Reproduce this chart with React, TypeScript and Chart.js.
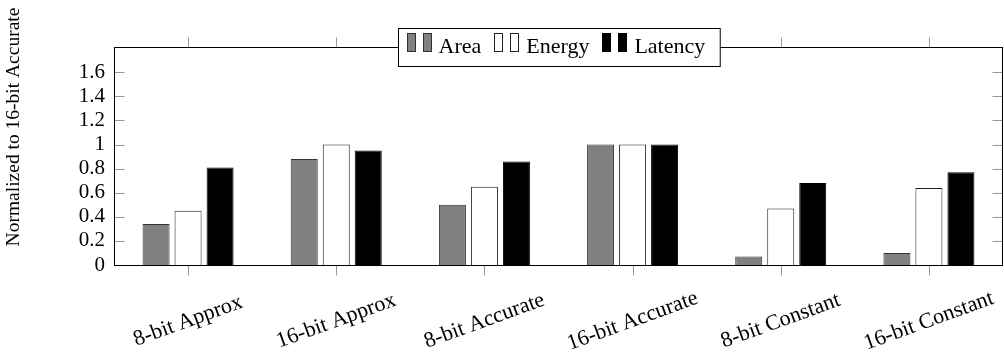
import React, { useEffect, useRef } from "react";
import { Chart, registerables } from "chart.js";

Chart.register(...registerables);

const categories = [
  "8-bit Approx",
  "16-bit Approx",
  "8-bit Accurate",
  "16-bit Accurate",
  "8-bit Constant",
  "16-bit Constant",
];
const seriesNames = ["Area", "Energy", "Latency"];
const areaValues = [0.34, 0.88, 0.5, 1.0, 0.07, 0.1];
const energyValues = [0.45, 1.0, 0.65, 1.0, 0.47, 0.64];
const latencyValues = [0.81, 0.95, 0.86, 1.0, 0.68, 0.77];
const yTickValues = [0, 0.2, 0.4, 0.6, 0.8, 1, 1.2, 1.4, 1.6];
const yTickLabels = ["0", "0.2", "0.4", "0.6", "0.8", "1", "1.2", "1.4", "1.6"];
const yAxisTitle = "Normalized to 16-bit Accurate";

const FONT = '"Liberation Serif", "Times New Roman", serif';
const fills = ["#808080", "#ffffff", "#000000"];
const borders = ["#333333", "#222222", "#000000"];

const decorPlugin = {
  id: "decor",
  afterDatasetsDraw(chart: any) {
    const { ctx, chartArea } = chart;
    const xs = chart.scales.x;
    const ys = chart.scales.y;
    const L = Math.round(chartArea.left) + 0.5;
    const R = Math.round(chartArea.right) - 0.5;
    const T = Math.round(chartArea.top) + 0.5;
    const B = Math.round(chartArea.bottom) + 0.5;
    ctx.save();
    // tick marks
    ctx.strokeStyle = "#999999";
    ctx.lineWidth = 1;
    ctx.beginPath();
    yTickValues.forEach((v) => {
      const y = Math.round(ys.getPixelForValue(v)) + 0.5;
      ctx.moveTo(L, y);
      ctx.lineTo(L + 10, y);
      ctx.moveTo(R, y);
      ctx.lineTo(R - 10, y);
    });
    categories.forEach((_, i) => {
      const x = Math.round(xs.getPixelForValue(i)) + 0.5;
      ctx.moveTo(x, B);
      ctx.lineTo(x, B + 10);
      ctx.moveTo(x, T);
      ctx.lineTo(x, T - 10);
    });
    ctx.stroke();
    // frame
    ctx.strokeStyle = "#000";
    ctx.strokeRect(L, T, R - L, B - T);

    // legend
    ctx.font = `22px ${FONT}`;
    const widths = seriesNames.map((n) => ctx.measureText(n).width);
    const padL = 8;
    const padR = 15;
    const iconBlock = 32;
    const entryGap = 13;
    const total =
      padL + widths.reduce((a, w) => a + iconBlock + w, 0) + entryGap * (seriesNames.length - 1) + padR;
    const cx = (chartArea.left + chartArea.right) / 2;
    const bx = Math.round(cx - total / 2) + 0.5;
    const by = 28.5;
    const bh = 38;
    ctx.fillStyle = "#fff";
    ctx.fillRect(bx, by, total, bh);
    ctx.strokeStyle = "#000";
    ctx.strokeRect(bx, by, total, bh);
    let px = bx + padL;
    seriesNames.forEach((name, i) => {
      for (let k = 0; k < 2; k++) {
        const ix = Math.round(px + k * 16) + 0.5;
        ctx.fillStyle = fills[i];
        ctx.fillRect(ix, 33.5, 8, 18);
        ctx.strokeStyle = borders[i];
        ctx.strokeRect(ix, 33.5, 8, 18);
      }
      ctx.fillStyle = "#000";
      ctx.textAlign = "left";
      ctx.textBaseline = "alphabetic";
      ctx.fillText(name, px + iconBlock, 53);
      px += iconBlock + widths[i] + entryGap;
    });

    // x labels
    ctx.font = `22px ${FONT}`;
    ctx.fillStyle = "#000";
    ctx.textAlign = "center";
    ctx.textBaseline = "middle";
    (chart.data.labels as string[]).forEach((lab, i) => {
      const x = xs.getPixelForValue(i);
      ctx.save();
      ctx.translate(x, 321);
      ctx.rotate((-20 * Math.PI) / 180);
      ctx.fillText(lab, 0, 0);
      ctx.restore();
    });

    // y title
    ctx.font = `19.5px ${FONT}`;
    ctx.save();
    ctx.translate(14, 127);
    ctx.rotate(-Math.PI / 2);
    ctx.textAlign = "center";
    ctx.textBaseline = "middle";
    ctx.fillText(yAxisTitle, 0, 0);
    ctx.restore();

    ctx.restore();
  },
};

export default function App() {
  const ref = useRef<HTMLCanvasElement | null>(null);
  useEffect(() => {
    if (!ref.current) return;
    const seriesValues = [areaValues, energyValues, latencyValues];
    const chart = new Chart(ref.current, {
      type: "bar",
      data: {
        labels: categories,
        datasets: seriesNames.map((name, i) => ({
          label: name,
          data: seriesValues[i],
          backgroundColor: fills[i],
          borderColor: borders[i],
          borderWidth: 1,
          categoryPercentage: 0.648,
          barPercentage: 0.844,
        })),
      },
      options: {
        animation: false,
        responsive: false,
        devicePixelRatio: 1,
        layout: { padding: { top: 47, right: 1, left: 0, bottom: 0 } },
        plugins: { legend: { display: false }, tooltip: { enabled: false }, title: { display: false } },
        scales: {
          x: {
            type: "category",
            offset: true,
            grid: { display: false, drawTicks: false },
            border: { display: false },
            ticks: { display: false },
            afterFit: (s: any) => {
              s.height = 93;
            },
          },
          y: {
            min: 0,
            max: 1.81,
            grid: { display: false, drawTicks: false },
            border: { display: false },
            ticks: {
              color: "#000",
              padding: 9,
              autoSkip: false,
              font: { family: FONT, size: 21 },
              callback: (_v: any, i: number) => yTickLabels[i],
            },
            afterBuildTicks: (s: any) => {
              s.ticks = yTickValues.map((v) => ({ value: v }));
            },
            afterFit: (s: any) => {
              s.width = 114;
            },
          },
        },
      },
      plugins: [decorPlugin],
    });
    return () => chart.destroy();
  }, []);
  return (
    <div style={{ position: "absolute", left: 0, top: 0, width: 1004, height: 358, background: "#fff" }}>
      <canvas ref={ref} width={1004} height={358} style={{ width: 1004, height: 358, display: "block" }} />
    </div>
  );
}
